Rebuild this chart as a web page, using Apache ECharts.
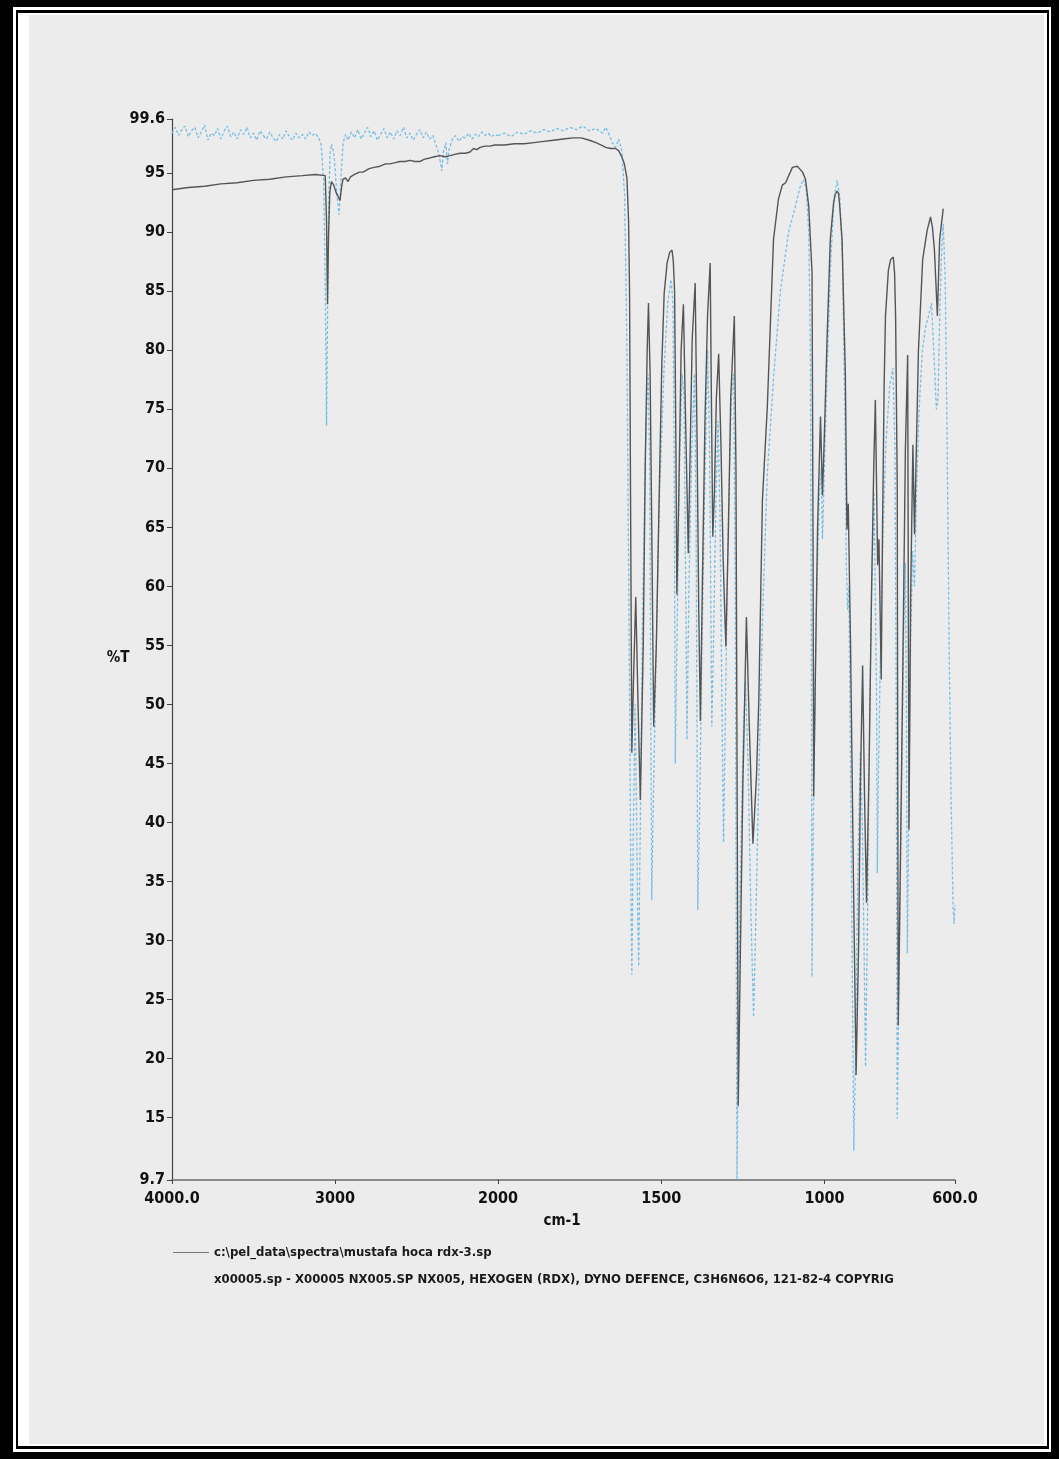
<!DOCTYPE html>
<html>
<head>
<meta charset="utf-8">
<title>RDX IR spectrum</title>
<script src="https://cdn.jsdelivr.net/npm/echarts@6.0.0/dist/echarts.min.js"></script>
<style>
  html, body { margin: 0; padding: 0; background: #000; }
  .band { position: absolute; }
  #main { position: absolute; left: 0; top: 0; width: 1059px; height: 1459px; }
</style>
</head>
<body>
<!-- scanned page frame -->
<div class="band" style="left:0;top:0;width:1059px;height:1459px;background:#000"></div>
<div class="band" style="left:13px;top:7px;width:1038px;height:1445px;background:#fff"></div>
<div class="band" style="left:16px;top:10px;width:1033px;height:1439px;background:#000"></div>
<div class="band" style="left:18px;top:13px;width:1029px;height:1433px;background:#fff"></div>
<div class="band" style="left:29px;top:15px;width:1015px;height:1429px;background:#ececec"></div>
<div id="main"></div>
<script>
// legend names
var sampleName = 'c:\\pel_data\\spectra\\mustafa hoca rdx-3.sp';
var refName = 'x00005.sp - X00005 NX005.SP NX005, HEXOGEN (RDX), DYNO DEFENCE, C3H6N6O6, 121-82-4 COPYRIG';

// tick values
var yTicks = [9.7, 15, 20, 25, 30, 35, 40, 45, 50, 55, 60, 65, 70, 75, 80, 85, 90, 95, 99.6];
var xTicksHigh = [4000, 3000];
var xTicksLow = [2000, 1500, 1000, 600];

// sample spectrum [cm-1, %T], 4000-2000 part (plotted at half scale)
var sampleHigh = [
    [4000, 93.6], [3900, 93.8], [3800, 93.9], [3700, 94.1], [3600, 94.2], [3500, 94.4],
    [3400, 94.5], [3300, 94.7], [3200, 94.8], [3120, 94.9], [3060, 94.8], [3052, 91.0],
    [3046, 83.9], [3040, 89.5], [3032, 93.4], [3022, 94.3], [3008, 94.0], [2994, 93.4],
    [2980, 93.0], [2969, 92.7], [2960, 93.8], [2951, 94.5], [2935, 94.6], [2920, 94.3],
    [2905, 94.7], [2880, 94.9], [2850, 95.1], [2828, 95.1], [2790, 95.4], [2760, 95.5],
    [2724, 95.6], [2690, 95.8], [2663, 95.8], [2630, 95.9], [2601, 96.0], [2570, 96.0],
    [2540, 96.1], [2510, 96.0], [2478, 96.0], [2450, 96.2], [2417, 96.3], [2390, 96.4],
    [2356, 96.5], [2325, 96.4], [2294, 96.5], [2265, 96.6], [2233, 96.7], [2200, 96.7],
    [2172, 96.8], [2150, 97.1], [2130, 97.0], [2110, 97.2], [2080, 97.3], [2049, 97.3],
    [2020, 97.4], [2000, 97.4]
];

// sample spectrum, 2000-600 part
var sampleLow = [
    [2000, 97.4], [1980, 97.4], [1950, 97.5], [1920, 97.5], [1890, 97.6], [1860, 97.7],
    [1830, 97.8], [1800, 97.9], [1770, 98.0], [1745, 98.0], [1720, 97.8], [1700, 97.6],
    [1685, 97.4], [1670, 97.2], [1655, 97.1], [1640, 97.1], [1630, 96.9], [1621, 96.4],
    [1613, 95.8], [1605, 94.6], [1600, 91.0], [1597, 85.0], [1594, 68.0], [1590, 45.9],
    [1585, 52.0], [1578, 59.1], [1571, 50.0], [1564, 41.9], [1555, 55.0], [1549, 70.0],
    [1543, 80.0], [1539, 84.0], [1534, 78.0], [1529, 65.0], [1523, 48.1], [1515, 55.0],
    [1506, 68.0], [1498, 79.0], [1491, 84.8], [1482, 87.4], [1474, 88.3], [1467, 88.5],
    [1463, 87.6], [1459, 85.0], [1455, 72.0], [1452, 59.3], [1446, 68.0], [1439, 80.0], [1432, 83.9],
    [1426, 75.0], [1417, 62.8], [1411, 72.0], [1405, 81.0], [1396, 85.7], [1390, 72.0],
    [1385, 58.0], [1380, 48.6], [1374, 60.0], [1366, 74.0], [1358, 83.0], [1350, 87.4],
    [1347, 78.0], [1342, 64.2], [1337, 68.0], [1331, 76.0], [1324, 79.7], [1317, 72.0],
    [1310, 62.0], [1302, 54.9], [1294, 65.0], [1287, 76.0], [1276, 82.9], [1271, 70.0],
    [1267, 40.0], [1264, 16.0], [1258, 28.0], [1250, 43.0], [1239, 57.4], [1230, 48.0],
    [1219, 38.2], [1208, 44.0], [1201, 50.4], [1190, 67.3], [1175, 75.2], [1156, 89.4],
    [1141, 92.8], [1129, 94.0], [1119, 94.2], [1113, 94.3], [1098, 95.5], [1083, 95.6],
    [1067, 95.1], [1058, 94.5], [1048, 92.2], [1038, 86.6], [1035, 65.0], [1033, 42.2],
    [1028, 52.0], [1021, 65.0], [1012, 74.4], [1006, 67.7], [1000, 73.0], [992, 80.9],
    [982, 89.4], [972, 92.5], [967, 93.2], [961, 93.5], [957, 93.3], [954, 92.5], [946, 89.4], [936, 78.1],
    [931, 64.8], [927, 67.0], [920, 55.0], [911, 35.0], [903, 18.6], [895, 30.0],
    [890, 43.0], [883, 53.3], [877, 42.0], [871, 33.2], [863, 45.0], [856, 58.9],
    [849, 70.0], [844, 75.8], [840, 68.0], [837, 61.8], [833, 64.0], [826, 52.1],
    [822, 65.0], [817, 77.2], [813, 82.9], [804, 86.8], [797, 87.7], [789, 87.9], [785, 86.5], [782, 82.9],
    [777, 68.8], [774, 22.8], [768, 35.0], [761, 50.4], [752, 71.6], [745, 79.6],
    [741, 39.4], [736, 58.9], [729, 72.0], [724, 64.4], [712, 80.0], [699, 87.7],
    [685, 90.2], [675, 91.3], [669, 90.4], [663, 88.5], [654, 82.9], [647, 89.4],
    [636, 92.0]
];

// library reference spectrum (RDX), 4000-2000 part
var refHigh = [
    [4000, 98.4], [3980, 98.9], [3960, 98.2], [3940, 98.7], [3920, 99.0], [3900, 98.1],
    [3880, 98.6], [3860, 98.9], [3840, 98.0], [3820, 98.5], [3800, 99.1], [3780, 97.8],
    [3760, 98.4], [3740, 98.2], [3720, 98.8], [3700, 97.9], [3680, 98.6], [3660, 99.0],
    [3640, 98.1], [3620, 98.5], [3600, 97.9], [3580, 98.7], [3560, 98.3], [3540, 98.9],
    [3520, 98.0], [3500, 98.4], [3480, 97.8], [3460, 98.6], [3440, 98.2], [3420, 97.9],
    [3400, 98.5], [3380, 98.0], [3360, 97.7], [3340, 98.3], [3320, 97.9], [3300, 98.6],
    [3280, 98.1], [3260, 97.8], [3240, 98.4], [3220, 98.0], [3200, 98.3], [3180, 97.9],
    [3160, 98.5], [3140, 98.2], [3120, 98.4], [3100, 98.0], [3085, 97.4], [3070, 94.5],
    [3060, 86.0], [3052, 73.6], [3045, 84.0], [3038, 93.0], [3030, 96.8], [3020, 97.5],
    [3005, 96.4], [2990, 93.5], [2975, 91.5], [2962, 95.0], [2950, 97.6], [2935, 98.3],
    [2920, 97.8], [2900, 98.5], [2880, 98.0], [2860, 98.7], [2840, 97.9], [2820, 98.4],
    [2800, 98.9], [2780, 98.1], [2760, 98.6], [2740, 97.8], [2720, 98.3], [2700, 98.8],
    [2680, 98.0], [2660, 98.5], [2640, 97.9], [2620, 98.6], [2600, 98.2], [2580, 98.9],
    [2560, 98.0], [2540, 98.4], [2520, 97.8], [2500, 98.3], [2480, 98.7], [2460, 98.0],
    [2440, 98.5], [2420, 97.9], [2400, 98.2], [2380, 97.4], [2360, 96.5], [2345, 95.2],
    [2335, 96.8], [2320, 97.6], [2310, 95.8], [2300, 97.0], [2280, 97.9], [2260, 98.2],
    [2240, 97.7], [2220, 98.1], [2200, 98.0], [2180, 98.4], [2160, 97.9], [2140, 98.3],
    [2120, 98.1], [2100, 98.5], [2080, 98.2], [2060, 98.4], [2040, 98.1], [2020, 98.3],
    [2000, 98.2]
];

// library reference spectrum, 2000-600 part
var refLow = [
    [2000, 98.2], [1980, 98.4], [1960, 98.1], [1940, 98.5], [1920, 98.3], [1900, 98.6],
    [1880, 98.4], [1860, 98.7], [1840, 98.5], [1820, 98.8], [1800, 98.6], [1780, 98.9],
    [1760, 98.7], [1740, 99.0], [1720, 98.6], [1700, 98.8], [1680, 98.4], [1670, 98.9],
    [1660, 98.3], [1650, 97.6], [1640, 97.2], [1630, 97.9], [1620, 96.8], [1612, 93.0],
    [1605, 80.0], [1598, 55.0], [1593, 35.0], [1590, 27.1], [1586, 38.0], [1580, 50.0],
    [1576, 42.0], [1572, 32.0], [1569, 27.8], [1564, 40.0], [1557, 58.0], [1548, 72.0],
    [1540, 78.0], [1535, 70.0], [1532, 50.0], [1529, 33.4], [1524, 42.0], [1515, 55.0],
    [1505, 68.0], [1492, 78.0], [1480, 84.0], [1470, 86.0], [1464, 84.0], [1460, 70.0],
    [1457, 45.0], [1452, 55.0], [1444, 70.0], [1436, 78.0], [1430, 76.0], [1425, 60.0],
    [1421, 47.0], [1415, 60.0], [1406, 72.0], [1398, 78.0], [1393, 65.0], [1388, 32.6],
    [1383, 40.0], [1375, 55.0], [1367, 68.0], [1358, 80.0], [1352, 72.0], [1345, 48.1],
    [1340, 55.0], [1332, 68.0], [1326, 74.0], [1320, 66.0], [1314, 50.0], [1309, 38.3],
    [1303, 50.0], [1295, 65.0], [1285, 76.0], [1278, 78.0], [1273, 60.0], [1270, 30.0],
    [1268, 9.7], [1264, 20.0], [1258, 35.0], [1250, 46.0], [1242, 52.0], [1234, 45.0],
    [1225, 32.0], [1217, 23.5], [1210, 32.0], [1200, 45.0], [1190, 57.0], [1175, 69.6],
    [1155, 78.0], [1135, 85.0], [1110, 90.0], [1089, 92.2], [1075, 93.8], [1064, 94.5],
    [1056, 93.8], [1048, 90.0], [1043, 80.0], [1040, 55.0], [1038, 26.9], [1034, 40.0],
    [1025, 58.0], [1015, 68.0], [1010, 70.0], [1006, 64.0], [1000, 70.0], [990, 80.0],
    [980, 88.0], [970, 93.0], [961, 94.4], [953, 93.0], [945, 88.0], [938, 76.0],
    [933, 62.0], [929, 58.0], [925, 60.0], [920, 45.0], [914, 25.0], [910, 12.2],
    [905, 20.0], [898, 35.0], [890, 46.0], [884, 40.0], [878, 28.0], [874, 19.3],
    [868, 32.0], [862, 48.0], [855, 60.0], [848, 68.0], [844, 68.0], [840, 50.0],
    [838, 35.7], [834, 45.0], [828, 55.0], [820, 65.0], [812, 72.0], [800, 77.0],
    [790, 78.5], [784, 72.0], [780, 50.0], [777, 14.9], [772, 25.0], [765, 40.0],
    [758, 55.0], [752, 62.0], [749, 50.0], [746, 28.9], [741, 42.0], [736, 55.0],
    [730, 63.0], [724, 60.0], [718, 68.0], [710, 75.0], [700, 80.0], [690, 82.0],
    [680, 83.0], [672, 84.0], [665, 80.0], [657, 75.0], [652, 76.0], [646, 84.0],
    [640, 89.0], [636, 90.7], [630, 86.0], [624, 72.0], [618, 55.0], [612, 42.0],
    [606, 33.0], [603, 31.4], [600, 33.0]
];

var labelFont = '"Liberation Sans Narrow", "DejaVu Sans Condensed", "Liberation Sans", sans-serif';
var sampleColor = '#555555';
var refColor = '#78bee4';

var myChart = echarts.init(document.getElementById('main'));

function xLabel(v) {
    if (v === 4000) return '4000.0';
    if (v === 600) return '600.0';
    return String(v);
}

function lineSeries(name, data, idx, color, dashed) {
    return {
        name: name,
        type: 'line',
        xAxisIndex: idx,
        yAxisIndex: idx,
        data: data,
        symbol: 'none',
        showSymbol: false,
        silent: true,
        z: dashed ? 2 : 3,
        lineStyle: { color: color, width: dashed ? 1.3 : 1.4, type: dashed ? [3, 2] : 'solid' },
        itemStyle: { color: color }
    };
}

var axisText = { fontFamily: labelFont, fontWeight: 'bold', fontSize: 16, color: '#111' };

var option = {
    animation: false,
    grid: [
        { left: 172, top: 119, width: 326, height: 1061 },   // 4000-2000
        { left: 498, top: 119, width: 457, height: 1061 }    // 2000-600, 2x expanded
    ],
    xAxis: [
        {
            gridIndex: 0, type: 'value', min: 2000, max: 4000, inverse: true,
            axisLine: { lineStyle: { color: '#6a6a6a', width: 1.5 } },
            axisTick: { customValues: xTicksHigh, length: 4, lineStyle: { color: '#444' } },
            axisLabel: Object.assign({ customValues: xTicksHigh, margin: 11, formatter: xLabel }, axisText),
            splitLine: { show: false }
        },
        {
            gridIndex: 1, type: 'value', min: 600, max: 2000, inverse: true,
            axisLine: { lineStyle: { color: '#6a6a6a', width: 1.5 } },
            axisTick: { customValues: xTicksLow, length: 4, lineStyle: { color: '#444' } },
            axisLabel: Object.assign({ customValues: xTicksLow, margin: 11, formatter: xLabel }, axisText),
            splitLine: { show: false }
        }
    ],
    yAxis: [
        {
            gridIndex: 0, type: 'value', min: 9.7, max: 99.6,
            axisLine: { show: true, lineStyle: { color: '#444', width: 1.2 } },
            axisTick: { show: true, customValues: yTicks, length: 5, lineStyle: { color: '#444' } },
            axisLabel: Object.assign({ customValues: yTicks, margin: 7 }, axisText),
            splitLine: { show: false }
        },
        { gridIndex: 1, type: 'value', min: 9.7, max: 99.6, show: false }
    ],
    legend: {
        orient: 'vertical',
        left: 168,
        top: 1241,
        itemGap: 14,
        itemWidth: 36,
        itemHeight: 1,
        icon: 'rect',
        selectedMode: false,
        textStyle: { fontFamily: labelFont, fontWeight: 'bold', fontSize: 13, color: '#1a1a1a' },
        data: [
            { name: sampleName, itemStyle: { color: '#777' } },
            { name: refName, itemStyle: { opacity: 0 } }
        ]
    },
    graphic: [
        {
            type: 'text', x: 118, y: 658,
            style: { text: '%T', align: 'center', verticalAlign: 'middle', font: 'bold 15px ' + labelFont, fill: '#111' }
        },
        {
            type: 'text', x: 562, y: 1221,
            style: { text: 'cm-1', align: 'center', verticalAlign: 'middle', font: 'bold 15px ' + labelFont, fill: '#111' }
        }
    ],
    series: [
        lineSeries(refName, refHigh, 0, refColor, true),
        lineSeries(refName, refLow, 1, refColor, true),
        lineSeries(sampleName, sampleHigh, 0, sampleColor, false),
        lineSeries(sampleName, sampleLow, 1, sampleColor, false)
    ]
};

myChart.setOption(option);
</script>
</body>
</html>
